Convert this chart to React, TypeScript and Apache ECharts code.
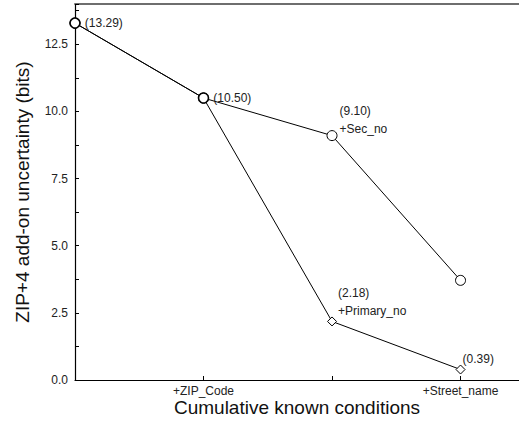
import React, { useEffect, useRef } from "react";
import * as echarts from "echarts";

const xTickLabels = ["", "+ZIP_Code", "", "+Street_name"];
const secNoSeries = [13.29, 10.5, 9.1, 3.71];
const primaryNoSeries = [13.29, 10.5, 2.18, 0.39];
const primarySymbols = ["circle", "circle", "diamond", "diamond"];
const primaryLabels = ["(13.29)", "(10.50)", "(2.18)\n+Primary_no", "(0.39)"];
const secLabels = ["", "", "(9.10)\n+Sec_no", ""];

const FONT = "Liberation Sans, Arial, Helvetica, sans-serif";

export default function App() {
  const ref = useRef<HTMLDivElement>(null);
  useEffect(() => {
    if (!ref.current) return;
    const chart = echarts.init(ref.current, null, { renderer: "svg" });
    const labelOffsets: Record<number, any> = {
      0: { offset: [0, 0], distance: 4 },
      1: { offset: [0, 0], distance: 4 },
      2: { offset: [0, -19], distance: 1 },
      3: { offset: [-3, -11], distance: 0 },
    };
    const primaryData = primaryNoSeries.map((v, i) => ({
      value: [i, v],
      symbol: primarySymbols[i],
      symbolSize: primarySymbols[i] === "diamond" ? 9 : 10,
      itemStyle: { borderWidth: i < 2 ? 1.6 : 1 },
      label: {
        show: true,
        position: "right",
        formatter: primaryLabels[i],
        lineHeight: 18,
        ...labelOffsets[i],
      },
    }));
    const secData = secNoSeries.map((v, i) => ({
      value: [i, v],
      label: {
        show: secLabels[i] !== "",
        position: "right",
        formatter: secLabels[i],
        lineHeight: 18,
        offset: [0, -16],
        distance: 2,
      },
    }));
    chart.setOption({
      animation: false,
      backgroundColor: "#fff",
      textStyle: { fontFamily: FONT },
      grid: { left: 75, right: 0, top: 4, bottom: 41, outerBoundsMode: "none", containLabel: false },
      xAxis: [
        {
          type: "value",
          min: 0,
          max: 3.455,
          interval: 1,
          name: "Cumulative known conditions",
          nameLocation: "middle",
          nameGap: 18,
          nameMoveOverlap: false,
          nameTextStyle: { fontSize: 19, color: "#111", fontFamily: FONT },
          axisLine: { show: true, lineStyle: { color: "#000", width: 1.2 } },
          axisTick: { show: true, inside: true, length: 4, lineStyle: { color: "#000" } },
          axisLabel: {
            fontSize: 12,
            color: "#222",
            margin: 5,
            fontFamily: FONT,
            formatter: (v: number) => {
              const i = Math.round(v);
              return Math.abs(v - i) < 1e-6 && xTickLabels[i] !== undefined ? xTickLabels[i] : "";
            },
          },
          splitLine: { show: false },
        },
        {
          type: "value",
          position: "top",
          min: 0,
          max: 3.455,
          axisLine: { show: true, lineStyle: { color: "#6e6e6e", width: 2 } },
          axisTick: { show: false },
          axisLabel: { show: false },
          splitLine: { show: false },
        },
      ],
      yAxis: {
        type: "value",
        min: 0,
        max: 14,
        interval: 1.25,
        name: "ZIP+4 add-on uncertainty (bits)",
        nameLocation: "middle",
        nameGap: 43,
        nameMoveOverlap: false,
        nameTextStyle: { fontSize: 19, color: "#111", fontFamily: FONT },
        axisLine: { show: true, lineStyle: { color: "#000", width: 1.2 } },
        axisTick: { show: true, inside: true, length: 4, lineStyle: { color: "#000" } },
        axisLabel: {
          fontSize: 12,
          color: "#222",
          margin: 7,
          fontFamily: FONT,
          formatter: (v: number) => {
            const r = v / 2.5;
            return Math.abs(r - Math.round(r)) < 1e-6 ? v.toFixed(1) : "";
          },
        },
        splitLine: { show: false },
      },
      series: [
        {
          type: "line",
          data: secData,
          symbol: "circle",
          symbolSize: 10,
          showAllSymbol: true,
          lineStyle: { color: "#000", width: 1 },
          itemStyle: { color: "#fff", borderColor: "#000", borderWidth: 1 },
          label: { fontSize: 12, color: "#222", fontFamily: FONT },
          z: 2,
        },
        {
          type: "line",
          data: primaryData,
          showAllSymbol: true,
          lineStyle: { color: "#000", width: 1 },
          itemStyle: { color: "#fff", borderColor: "#000", borderWidth: 1 },
          label: { fontSize: 12, color: "#222", fontFamily: FONT },
          z: 3,
        },
      ],
    });
    return () => chart.dispose();
  }, []);
  return <div ref={ref} style={{ width: 519, height: 421, position: "absolute", left: 0, top: 0 }} />;
}
